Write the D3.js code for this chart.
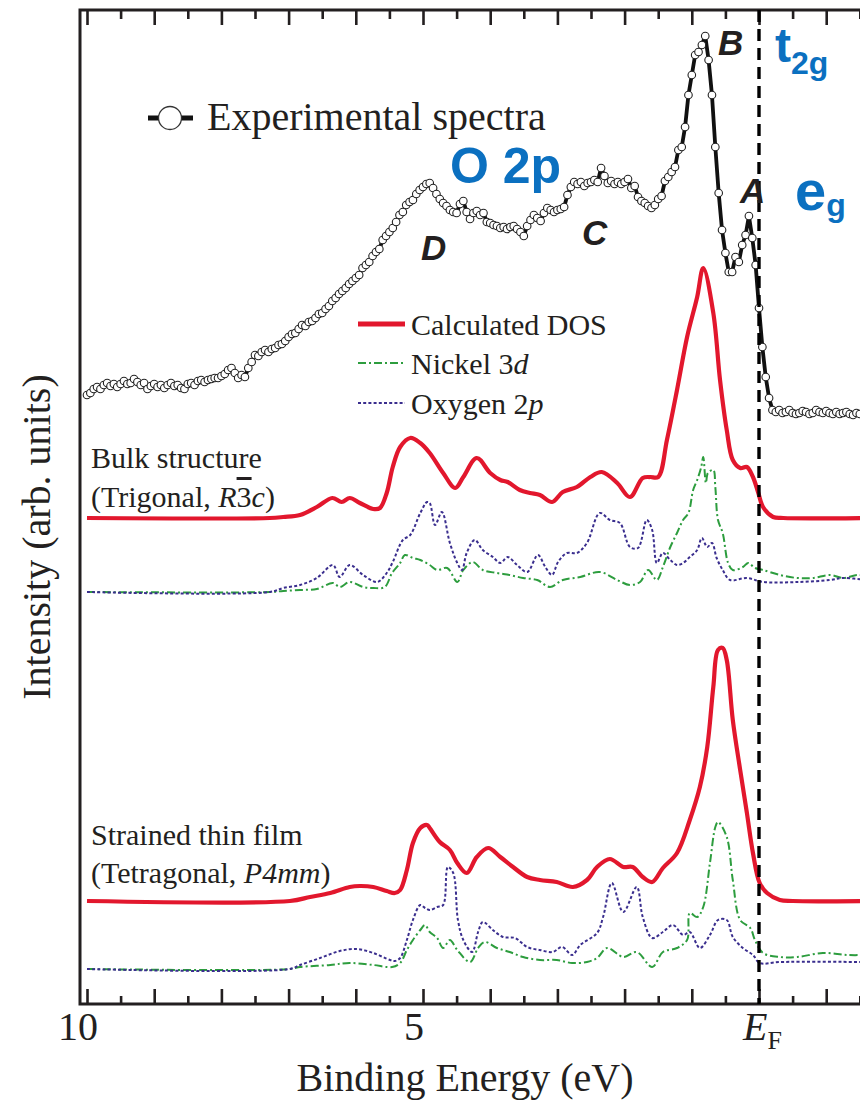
<!DOCTYPE html>
<html>
<head>
<meta charset="utf-8">
<script src="https://cdn.jsdelivr.net/npm/d3@7"></script>
<style>
  body { margin: 0; background: #fff; }
  svg { display: block; }
  .serif { font-family: "Liberation Serif", "Times New Roman", serif; fill: #231f20; }
  .sans { font-family: "Liberation Sans", Arial, sans-serif; }
</style>
</head>
<body>
<svg id="chart" width="860" height="1101"></svg>
<script>
// ---- Experimental photoemission spectrum: sampled every 0.05 eV starting at 10 eV ----
const expStart = 10.0;
const expStep = 0.05;
const expIntensity = [
  2.0, 2.2, 2.6, 2.8, 2.6, 3.0, 3.2, 2.9, 3.1, 2.8,
  3.1, 3.4, 3.1, 3.2, 3.6, 3.3, 3.0, 3.2, 2.6, 2.9,
  3.1, 2.8, 3.0, 2.7, 3.0, 3.2, 2.9, 3.0, 2.7, 2.6,
  3.1, 3.2, 3.0, 3.4, 3.5, 3.3, 3.5, 3.6, 3.7, 3.7,
  3.9, 4.1, 4.5, 4.7, 4.2, 3.7, 4.0, 3.8, 4.7, 5.3,
  6.0, 5.9, 6.3, 6.5, 6.3, 6.6, 6.7, 7.0, 7.1, 7.4,
  7.8, 8.1, 8.2, 8.6, 9.0, 8.9, 9.3, 9.4, 9.7, 10.1,
  10.2, 10.6, 10.9, 11.4, 11.7, 12.1, 12.4, 12.7, 13.1, 13.4,
  13.7, 14.0, 14.7, 15.0, 15.3, 15.9, 16.3, 16.6, 17.5, 17.9,
  18.3, 18.7, 19.3, 20.0, 20.3, 21.0, 21.3, 21.5, 22.1, 22.5,
  22.8, 23.1, 23.2, 22.7, 22.1, 21.6, 21.2, 20.9, 20.5, 20.3,
  20.2, 21.1, 21.4, 20.3, 19.6, 20.2, 20.4, 20.0, 20.2, 19.3,
  19.2, 19.0, 18.9, 18.7, 18.8, 18.6, 18.8, 18.9, 18.6, 18.3,
  17.9, 18.9, 19.5, 20.0, 19.7, 19.4, 20.2, 20.7, 20.5, 20.3,
  20.5, 20.6, 20.8, 22.0, 22.8, 23.3, 23.1, 23.3, 22.9, 23.2,
  23.3, 23.5, 23.3, 24.7, 23.9, 23.2, 23.4, 23.1, 23.3, 23.1,
  23.3, 23.6, 22.7, 22.9, 21.8, 21.4, 21.2, 20.9, 20.7, 21.0,
  21.6, 21.9, 23.4, 23.8, 24.3, 24.8, 26.5, 26.8, 28.8, 32.0,
  34.0, 36.0, 36.3, 37.0, 37.9, 35.5, 32.0, 26.8, 22.2, 18.5,
  16.2, 14.3, 14.3, 15.8, 15.3, 17.0, 18.0, 19.9, 17.7, 15.0,
  10.7, 6.8, 3.8, 1.7, 0.5, 0.3, 0.5, 0.2, 0.3, 0.5,
  0.2, 0.1, 0.2, 0.4, 0.3, 0.1, 0.2, 0.5, 0.3, 0.2,
  0.4, 0.2, 0.1, 0.3, 0.1, 0.2, 0.3, 0.1, 0.0, 0.2,
  0.1
];

// ---- Calculated DOS, bulk structure: [binding energy (eV), intensity] ----
const bulkTotal = [
  [10, 0], [7.28, 0], [7.08, 0.1], [6.83, 0.3], [6.58, 1.1], [6.35, 2.0], [6.21, 1.6],
  [6.09, 2.0], [5.94, 1.5], [5.74, 0.9], [5.64, 1.0], [5.54, 2.5], [5.45, 5.1], [5.34, 7.1],
  [5.19, 8.0], [5.04, 7.5], [4.90, 6.5], [4.70, 4.5], [4.52, 3.0], [4.40, 4.1], [4.20, 6.0],
  [4.00, 4.5], [3.85, 3.8], [3.74, 3.6], [3.56, 2.8], [3.41, 2.5], [3.26, 2.3], [3.08, 1.6],
  [2.92, 2.6], [2.71, 3.1], [2.51, 4.1], [2.34, 4.6], [2.11, 3.5], [1.92, 2.1], [1.73, 4.0],
  [1.62, 4.1], [1.50, 4.1], [1.37, 7.8], [1.22, 12.8], [1.07, 18.1], [0.92, 22.1], [0.83, 25.0],
  [0.68, 20.5], [0.58, 13.8], [0.48, 8.8], [0.39, 5.8], [0.28, 5.0], [0.18, 5.1], [0.09, 4.1],
  [0.01, 2.5], [-0.06, 1.1], [-0.21, 0.1], [-0.36, 0], [-1.6, 0]
];
const bulkNi3d = [
  [10, 0], [7.28, 0], [7.08, 0.1], [6.83, 0.2], [6.58, 0.3], [6.34, 0.9], [6.24, 0.5],
  [6.09, 1.0], [5.89, 0.5], [5.74, 0.4], [5.57, 0.5], [5.46, 1.9], [5.34, 2.9], [5.27, 3.7],
  [5.15, 3.4], [5.04, 3.2], [4.90, 2.7], [4.79, 2.2], [4.64, 2.4], [4.49, 1.0], [4.40, 2.2],
  [4.26, 3.0], [4.11, 2.2], [3.90, 1.9], [3.71, 1.7], [3.51, 1.4], [3.30, 1.2], [3.11, 0.5],
  [2.92, 1.2], [2.66, 1.5], [2.37, 2.0], [2.11, 1.2], [1.92, 0.7], [1.77, 1.0], [1.65, 2.2],
  [1.52, 1.2], [1.43, 2.5], [1.32, 4.5], [1.22, 5.9], [1.13, 7.2], [1.05, 7.9], [0.98, 10.2],
  [0.92, 11.2], [0.86, 12.5], [0.83, 13.5], [0.79, 10.9], [0.76, 11.9], [0.68, 12.2],
  [0.65, 10.5], [0.61, 7.2], [0.54, 5.9], [0.46, 2.9], [0.39, 2.2], [0.24, 2.5], [0.16, 2.9],
  [0.06, 2.4], [-0.06, 2.2], [-0.31, 1.7], [-0.57, 1.4], [-0.80, 1.4], [-1.06, 1.7],
  [-1.25, 1.4], [-1.46, 1.7], [-1.6, 1.6]
];
const bulkO2p = [
  [10, 0], [7.28, 0], [7.08, 0.4], [6.83, 0.7], [6.58, 1.4], [6.34, 2.7], [6.24, 1.5],
  [6.09, 2.7], [5.89, 1.7], [5.68, 1.0], [5.54, 1.9], [5.45, 3.0], [5.30, 5.2], [5.19, 5.7],
  [5.04, 7.9], [4.94, 9.0], [4.90, 8.9], [4.82, 6.7], [4.72, 8.0], [4.60, 4.9], [4.49, 2.9],
  [4.42, 2.2], [4.35, 3.9], [4.23, 5.2], [4.11, 4.2], [3.96, 3.5], [3.85, 2.9], [3.74, 3.5],
  [3.60, 2.7], [3.45, 2.0], [3.29, 3.7], [3.18, 2.5], [3.08, 1.7], [2.99, 3.0], [2.86, 3.9],
  [2.71, 3.9], [2.56, 4.9], [2.37, 7.9], [2.22, 7.2], [2.07, 6.9], [1.92, 4.5], [1.80, 4.4],
  [1.67, 7.2], [1.59, 6.2], [1.52, 2.9], [1.43, 3.9], [1.32, 3.2], [1.22, 2.7], [1.13, 2.9],
  [1.03, 3.5], [0.92, 4.2], [0.85, 5.4], [0.77, 4.5], [0.70, 4.9], [0.63, 3.4], [0.54, 2.2],
  [0.43, 1.2], [0.18, 1.4], [-0.06, 1.0], [-0.57, 1.0], [-1.06, 1.2], [-1.25, 1.4], [-1.6, 1.2]
];

// ---- Calculated DOS, strained thin film ----
const filmTotal = [
  [10, 0], [6.98, 0], [6.68, 0.4], [6.38, 0.8], [6.09, 1.4], [5.94, 1.5], [5.74, 1.4],
  [5.54, 1.0], [5.42, 0.8], [5.34, 1.1], [5.24, 3.1], [5.15, 5.8], [5.04, 7.3], [4.94, 7.6],
  [4.90, 7.3], [4.75, 5.9], [4.60, 5.1], [4.49, 3.8], [4.35, 2.8], [4.20, 4.4], [4.03, 5.3],
  [3.85, 4.4], [3.66, 3.4], [3.45, 2.4], [3.26, 2.1], [3.01, 1.9], [2.77, 1.4], [2.56, 2.1],
  [2.41, 3.4], [2.22, 4.2], [2.02, 3.4], [1.88, 3.4], [1.73, 2.4], [1.59, 1.9], [1.43, 3.3],
  [1.22, 4.8], [1.03, 8.1], [0.88, 11.4], [0.77, 15.4], [0.68, 21.4], [0.61, 25.1],
  [0.54, 25.3], [0.48, 24.1], [0.39, 18.1], [0.28, 13.1], [0.18, 8.8], [0.09, 4.8],
  [-0.01, 1.8], [-0.12, 0.8], [-0.31, 0.1], [-0.5, 0], [-1.6, 0]
];
const filmNi3d = [
  [10, 0], [6.98, 0], [6.83, 0.2], [6.38, 0.4], [6.09, 0.6], [5.74, 0.4], [5.46, 0.2],
  [5.34, 0.6], [5.24, 1.9], [5.15, 2.9], [5.04, 3.9], [4.97, 4.4], [4.90, 3.7], [4.79, 3.1],
  [4.70, 2.1], [4.60, 2.9], [4.49, 1.9], [4.30, 0.7], [4.18, 2.1], [4.08, 2.7], [3.90, 2.1],
  [3.71, 1.7], [3.51, 1.2], [3.26, 0.9], [3.01, 0.9], [2.78, 0.6], [2.56, 0.7], [2.41, 1.1],
  [2.26, 2.1], [2.02, 1.2], [1.82, 1.7], [1.59, 0.2], [1.43, 1.7], [1.22, 2.1], [1.07, 2.9],
  [1.03, 5.6], [0.92, 5.2], [0.83, 6.2], [0.73, 10.6], [0.65, 14.2], [0.61, 14.7],
  [0.48, 13.2], [0.39, 8.9], [0.28, 4.9], [0.13, 4.1], [0.06, 2.9], [-0.06, 1.6],
  [-0.31, 1.2], [-0.57, 1.2], [-0.95, 1.6], [-1.31, 1.4], [-1.6, 1.4]
];
const filmO2p = [
  [10, 0], [6.98, 0], [6.83, 0.4], [6.53, 1.1], [6.24, 1.8], [5.98, 2.0], [5.74, 1.6],
  [5.49, 0.9], [5.42, 0.8], [5.34, 1.1], [5.24, 2.9], [5.15, 4.9], [5.04, 6.4], [4.97, 6.1],
  [4.90, 5.9], [4.79, 6.2], [4.70, 6.4], [4.63, 10.2], [4.55, 9.6], [4.48, 4.9], [4.40, 2.9],
  [4.27, 1.7], [4.18, 3.7], [4.11, 4.7], [3.96, 3.9], [3.81, 3.2], [3.63, 3.1], [3.45, 2.2],
  [3.26, 1.9], [3.07, 1.7], [2.93, 2.2], [2.78, 1.4], [2.66, 2.4], [2.41, 3.6], [2.32, 5.2],
  [2.19, 8.6], [2.02, 5.7], [1.82, 8.2], [1.73, 5.2], [1.59, 3.1], [1.43, 3.7], [1.28, 4.4],
  [1.13, 3.4], [1.03, 3.7], [0.88, 2.1], [0.73, 3.4], [0.61, 4.9], [0.48, 4.9], [0.39, 3.2],
  [0.24, 2.1], [0.09, 1.4], [-0.01, 0.6], [-0.31, 0.7], [-1.6, 0.7]
];

// ---- Axis ticks and labels ----
const majorTicks = [10, 9, 8, 7, 6, 5, 4, 3, 2, 1, 0, -1];
const minorTicks = [9.5, 8.5, 7.5, 6.5, 5.5, 4.5, 3.5, 2.5, 1.5, 0.5, -0.5, -1.5];
const tickLabels = [10, 5];
const fermiLevel = 0;

// Vertical stacking of the spectra (intensity units)
const stackOffset = { experiment: 58.9, bulkTotal: 48.6, bulkPartial: 41.2, filmTotal: 10.3, filmPartial: 3.5 };

const RED = "#e2172d", GREEN = "#2d9d3e", PURPLE = "#3a2e8e", INK = "#231f20", BLUE = "#0b70c0";

const svg = d3.select("#chart");
const frame = { left: 80, top: 10, bottom: 1004, right: 860 };

const x = d3.scaleLinear().domain([10, 0]).range([87, 759]);
const y = d3.scaleLinear().domain([0, 99.4]).range([frame.bottom, frame.top]);

// ---- Frame and ticks ----
const axisG = svg.append("g");
function tickAxis(gen, ypos, values, size) {
  const g = axisG.append("g").attr("transform", `translate(0,${ypos})`)
    .call(gen(x).tickValues(values).tickSize(size).tickFormat(""));
  g.select(".domain").remove();
  g.selectAll(".tick line").attr("stroke", INK).attr("stroke-width", 2.6);
}
tickAxis(d3.axisBottom, frame.bottom, majorTicks, -15);
tickAxis(d3.axisBottom, frame.bottom, minorTicks, -8);
tickAxis(d3.axisTop, frame.top, majorTicks, -15);
tickAxis(d3.axisTop, frame.top, minorTicks, -9);

axisG.append("path")
  .attr("d", `M${frame.right + 2},${frame.top}H${frame.left}V${frame.bottom}H${frame.right + 2}`)
  .attr("fill", "none").attr("stroke", INK).attr("stroke-width", 3);

// ---- Spectra ----
const smooth = (offset) => d3.line()
  .x(d => x(d[0])).y(d => y(d[1] + offset))
  .curve(d3.curveCatmullRom.alpha(0.5));

const plot = svg.append("g");
function drawSeries(data, offset, color, width, dash) {
  plot.append("path").datum(data)
    .attr("d", smooth(offset))
    .attr("fill", "none").attr("stroke", color).attr("stroke-width", width)
    .attr("stroke-linejoin", "round")
    .attr("stroke-dasharray", dash || null);
}
const dashDot = "8,3,2,3";
const dotted = "3,2.2";

drawSeries(bulkNi3d, stackOffset.bulkPartial, GREEN, 2, dashDot);
drawSeries(bulkO2p, stackOffset.bulkPartial, PURPLE, 2, dotted);
drawSeries(bulkTotal, stackOffset.bulkTotal, RED, 4.2);
drawSeries(filmNi3d, stackOffset.filmPartial, GREEN, 2, dashDot);
drawSeries(filmO2p, stackOffset.filmPartial, PURPLE, 2, dotted);
drawSeries(filmTotal, stackOffset.filmTotal, RED, 4.2);

// Experimental curve with open circles
const expPoints = expIntensity.map((v, i) => [expStart - i * expStep, v]);
plot.append("path").datum(expPoints)
  .attr("d", d3.line().x(d => x(d[0])).y(d => y(d[1] + stackOffset.experiment)))
  .attr("fill", "none").attr("stroke", "#111").attr("stroke-width", 3.8)
  .attr("stroke-linejoin", "round");
plot.append("g").selectAll("circle").data(expPoints).join("circle")
  .attr("cx", d => x(d[0])).attr("cy", d => y(d[1] + stackOffset.experiment))
  .attr("r", 3.8).attr("fill", "#fff").attr("stroke", "#222").attr("stroke-width", 1.1);

// Fermi level
svg.append("line")
  .attr("x1", x(fermiLevel)).attr("x2", x(fermiLevel))
  .attr("y1", frame.top).attr("y2", frame.bottom)
  .attr("stroke", "#000").attr("stroke-width", 3.4).attr("stroke-dasharray", "12,7");

// ---- Axis labels ----
const labels = svg.append("g").attr("class", "serif");
tickLabels.forEach(v => {
  labels.append("text").attr("x", x(v) - 9).attr("y", 1040)
    .attr("text-anchor", "middle").attr("font-size", 40).text(v);
});
const ef = labels.append("text").attr("x", x(fermiLevel) - 16).attr("y", 1040).attr("font-size", 40);
ef.append("tspan").attr("font-style", "italic").text("E");
ef.append("tspan").attr("font-size", 26).attr("dy", 9).text("F");

labels.append("text").attr("x", 465).attr("y", 1091).attr("text-anchor", "middle")
  .attr("font-size", 40).text("Binding Energy (eV)");
labels.append("text").attr("transform", "translate(50,537) rotate(-90)")
  .attr("text-anchor", "middle").attr("font-size", 40).text("Intensity (arb. units)");

// ---- Legends ----
const leg = svg.append("g");
leg.append("line").attr("x1", 148).attr("x2", 193).attr("y1", 118).attr("y2", 118)
  .attr("stroke", "#111").attr("stroke-width", 5);
leg.append("circle").attr("cx", 170).attr("cy", 118).attr("r", 11.5)
  .attr("fill", "#fff").attr("stroke", "#333").attr("stroke-width", 1.3);
leg.append("text").attr("class", "serif").attr("x", 207).attr("y", 130)
  .attr("font-size", 40).text("Experimental spectra");

const legendRows = [
  { y: 324, color: RED, width: 5, dash: null, parts: [["Calculated DOS", "normal"]] },
  { y: 363, color: GREEN, width: 2.2, dash: dashDot, parts: [["Nickel 3", "normal"], ["d", "italic"]] },
  { y: 403, color: PURPLE, width: 2.2, dash: dotted, parts: [["Oxygen 2", "normal"], ["p", "italic"]] }
];
legendRows.forEach(r => {
  leg.append("line").attr("x1", 358).attr("x2", 405).attr("y1", r.y).attr("y2", r.y)
    .attr("stroke", r.color).attr("stroke-width", r.width).attr("stroke-dasharray", r.dash);
  const t = leg.append("text").attr("class", "serif").attr("x", 411).attr("y", r.y + 11).attr("font-size", 30);
  r.parts.forEach(p => t.append("tspan").attr("font-style", p[1]).text(p[0]));
});

// Structure captions
const cap = svg.append("g").attr("class", "serif").attr("font-size", 30);
cap.append("text").attr("x", 91).attr("y", 468).text("Bulk structure");
const trig = cap.append("text").attr("x", 91).attr("y", 507);
trig.append("tspan").text("(Trigonal, ");
trig.append("tspan").attr("font-style", "italic").text("R");
trig.append("tspan").style("text-decoration", "overline").text("3");
trig.append("tspan").attr("font-style", "italic").text("c");
trig.append("tspan").text(")");
cap.append("text").attr("x", 91).attr("y", 845).text("Strained thin film");
const tet = cap.append("text").attr("x", 91).attr("y", 883);
tet.append("tspan").text("(Tetragonal, ");
tet.append("tspan").attr("font-style", "italic").text("P4mm");
tet.append("tspan").text(")");

// Peak letters
const peakLetters = [["B", 718, 55], ["A", 740, 203], ["C", 582, 245], ["D", 421, 260]];
svg.append("g").selectAll("text").data(peakLetters).join("text")
  .attr("class", "sans").attr("x", d => d[1]).attr("y", d => d[2])
  .attr("font-size", 35).attr("font-weight", "bold").attr("font-style", "italic")
  .attr("fill", INK).text(d => d[0]);

// Orbital annotations
const ann = svg.append("g").attr("class", "sans").attr("fill", BLUE).attr("font-weight", "bold");
ann.append("text").attr("x", 450).attr("y", 183).attr("font-size", 50).text("O 2p");
const t2g = ann.append("text").attr("x", 775).attr("y", 62).attr("font-size", 48);
t2g.append("tspan").text("t");
t2g.append("tspan").attr("font-size", 32).attr("dy", 12).text("2g");
const eg = ann.append("text").attr("x", 795).attr("y", 210).attr("font-size", 56);
eg.append("tspan").text("e");
eg.append("tspan").attr("font-size", 32).attr("dy", 6).text("g");
</script>
</body>
</html>
